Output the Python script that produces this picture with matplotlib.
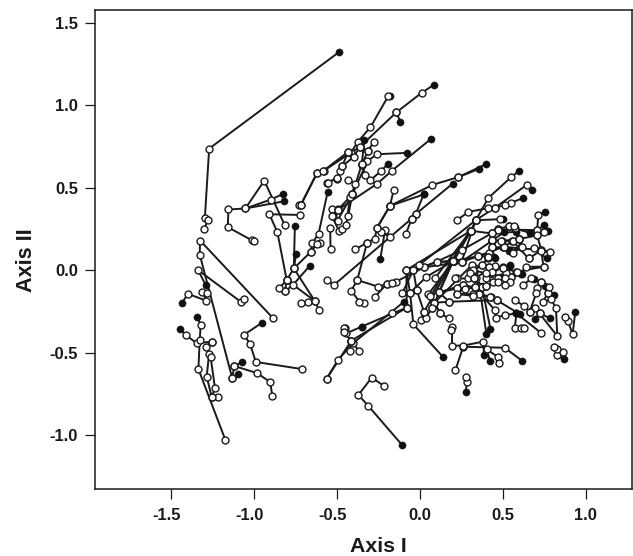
import matplotlib
matplotlib.use("Agg")
import matplotlib.pyplot as plt
from matplotlib.transforms import ScaledTranslation

plt.rcParams['font.family'] = ['Liberation Sans', 'DejaVu Sans']
plt.rcParams['font.weight'] = 'bold'

x_ticks = [-1.5, -1.0, -0.5, 0.0, 0.5, 1.0]
y_ticks = [-1.0, -0.5, 0.0, 0.5, 1.0, 1.5]
x_name = "Axis I"
y_name = "Axis II"

# tracks that start at a filled (black) point
filled_tracks = [
    [(-.487, 1.32), (-1.268, .736), (-1.294, .318), (-1.278, .302), (-1.298, .246)],
    [(-.826, .460), (-.897, .427), (-1.050, .373), (-1.152, .367), (-1.156, .260), (-1.012, .181), (-1.000, .179)],
    [(-.816, .417), (-1.050, .373), (-.936, .542), (-.812, .270)],
    [(-.752, .266), (-.758, .010), (-.801, -.061), (-.812, -.130)],
    [(-.744, .098), (-.758, .010)],
    [(-.662, .026), (-.764, -.091), (-.812, -.130)],
    [(-.555, .470), (-.609, .221), (-.648, .161), (-.654, .112), (-.758, .010), (-.633, -.186), (-.672, -.194), (-.712, -.198)],
    [(-1.441, -.360), (-1.409, -.394), (-1.342, -.444), (-1.253, -.434)],
    [(-1.341, -.283), (-1.319, -.331), (-1.325, -.424), (-1.333, -.600), (-1.170, -1.031)],
    [(-1.289, -.091), (-1.335, .0), (-1.078, -.192), (-1.060, -.176)],
    [(-1.43, -.198), (-1.397, -.144), (-1.285, -.186), (-1.309, -.132), (-1.279, -.140)],
    [(-.949, -.319), (-1.058, -.392), (-1.021, -.450), (-.987, -.557), (-.710, -.600)],
    [(-1.070, -.559), (-1.116, -.582), (-.981, -.624), (-.901, -.678), (-.887, -.765)],
    [(-1.094, -.630), (-1.130, -.652)],
    [(-.350, -.343), (-.164, -.263), (-.078, -.228)],
    [(-.094, -.192), (-.402, -.444), (-.491, -.543), (-.560, -.658)],
    [(-.350, -.343), (-.442, -.384), (-.448, -.350)],
    [(.402, .643), (.232, .563), (.077, .516), (-.179, .389), (-.156, .488)],
    [(.358, .613), (.232, .563)],
    [(.024, .458), (-.179, .389), (-.257, .256), (-.271, .191), (-.317, .165), (-.390, .125)],
    [(.024, .458), (-.024, .339)],
    [(.199, .524), (-.024, .339), (-.048, .312), (-.517, -.091), (-.557, -.061)],
    [(-.237, .068), (-.209, .242), (-.179, .199), (-.233, .232), (-.257, .256), (-.179, .389)],
    [(.597, .599), (.551, .563), (.414, .437), (.338, .302), (.308, .238), (.205, .056), (.105, .050)],
    [(.620, .435), (.553, .409), (.513, .393), (.455, .379), (.414, .375), (.294, .353), (.225, .302)],
    [(.676, .484), (.648, .518), (.455, .379), (.338, .302), (.252, .050)],
    [(.499, .308), (.483, .308), (.338, .302)],
    [(.754, .353), (.714, .333), (.708, .242), (.708, .211), (.732, .121), (.746, .020)],
    [(.748, .270), (.708, .242), (.469, .246)],
    [(.776, .236), (.748, .228), (.708, .211), (.597, .187), (.418, .105)],
    [(.662, .226), (.573, .252), (.539, .268), (.469, .246), (.433, .222), (.308, .238), (.091, -.051)],
    [(.583, .232), (.433, .222), (.252, .120), (.026, .016)],
    [(.509, .230), (.435, .177), (.252, .050), (.026, .016), (-.144, -.071), (-.199, -.085), (-.269, -.162)],
    [(.543, .117), (.611, .137), (.597, .187), (.493, .177), (.435, .177)],
    [(.418, .105), (.252, .050), (.105, .050), (-.038, .0), (-.104, -.138)],
    [(.449, .080), (.352, .084), (.201, .054), (.041, -.041), (-.058, -.138), (-.018, -.121)],
    [(.766, .070), (.686, .131), (.786, .107), (.732, .121), (.503, .141), (.352, .084)],
    [(.543, .030), (.499, .016), (.420, .016), (.314, .030), (.089, -.198)],
    [(.613, -.025), (.638, .020), (.746, .020), (.583, -.010), (.549, -.041)],
    [(.139, -.525), (-.038, -.329), (-.058, -.138), (-.080, .0), (-.078, -.228)],
    [(.402, -.388), (.360, -.1), (.325, -.01)],
    [(.426, -.356), (.375, -.1), (.340, -.05)],
    [(.615, -.549), (.513, -.471), (.262, -.465), (.215, -.608)],
    [(.388, -.515), (.382, -.434), (.262, -.458), (.195, -.458), (.195, -.347), (.187, -.364)],
    [(.424, -.553), (.404, -.481), (.469, -.525), (.477, -.561)],
    [(.278, -.737), (.284, -.680), (.282, -.646)],
    [(-.107, -1.059), (-.309, -.824), (-.369, -.757), (-.289, -.652), (-.217, -.701)],
    [(.937, -.255), (.921, -.390), (.893, -.307), (.877, -.283)],
    [(.867, -.539), (.826, -.515), (.861, -.495), (.826, -.479), (.812, -.468)],
    [(.784, -.291), (.722, -.263), (.692, -.232), (.662, -.253), (.626, -.216), (.573, -.182)],
    [(.692, -.297), (.722, -.263), (.829, -.400), (.821, -.230), (.792, -.178), (.742, -.192), (.772, -.142)],
    [(.808, -.150), (.772, -.142), (.732, -.071), (.706, -.111), (.702, -.142), (.662, -.253)],
    [(.688, -.057), (.672, -.051), (.623, -.093)],
    [(.756, -.097), (.732, -.071), (.782, -.101)],
    [(.583, -.263), (.513, -.273), (.459, -.289), (.453, -.243), (.334, -.105)],
    [(.603, -.267), (.463, -.182)],
    [(.583, -.263), (.573, -.350), (.613, -.350), (.626, -.350)],
    [(.583, -.263), (.730, -.380)],
    [(.085, 1.122), (.013, 1.075), (-.140, .956), (-.361, .746), (-.414, .712), (-.578, .601), (-.618, .589), (-.716, .395)],
    [(-.178, 1.055), (-.190, 1.053), (-.297, .865), (-.373, .777), (-.414, .712)],
    [(-.118, .900), (-.140, .956)],
    [(.071, .797), (-.166, .603), (-.255, .524), (-.495, .363), (-.525, .329)],
    [(-.078, .710), (-.257, .702), (-.315, .660), (-.406, .458), (-.495, .30)],
    [(-.191, .645), (-.233, .599), (-.297, .545), (-.327, .575), (-.349, .639), (-.347, .641), (-.313, .720)],
    [(-.333, .791), (-.349, .64), (-.406, .458), (-.43, .33)],
    [(.423, .105), (.353, .085)],
    [(.454, .075), (.409, .081)],
    [(.540, .118), (.508, .138)],
    [(.373, -.097), (.399, -.097)],
    [(.544, .027), (.504, .010)],
    [(.614, -.024), (.548, -.040)],
]

# tracks with open points only
open_tracks = [
    [(-.719, .334), (-.905, .338), (-.857, .228), (-.801, -.061), (-.845, -.109)],
    [(-.601, .161), (-.620, .157), (-.654, .112)],
    [(-.605, -.245), (-.633, -.186), (-.801, -.061)],
    [(-.726, .393), (-.716, .393), (-.617, .591), (-.581, .601), (-.431, .716)],
    [(-.557, .530), (-.501, .554), (-.477, .601), (-.467, .629), (-.431, .716)],
    [(-.539, .256), (-.537, .125)],
    [(-.529, .367), (-.495, .367), (-.531, .330), (-.485, .236), (-.469, .246), (-.441, .276), (-.421, .44)],
    [(-.886, -.289), (-1.323, .179), (-1.325, .094), (-1.130, -.652), (-1.116, -.582)],
    [(-1.253, -.434), (-1.289, -.464), (-1.269, -.511), (-1.283, -.646), (-1.253, -.769), (-1.212, -.767)],
    [(-1.259, -.529), (-1.233, -.717), (-1.253, -.769)],
    [(-.078, -.228), (-.412, -.428), (-.560, -.658)],
    [(-.422, -.493), (-.412, -.428), (-.367, -.489)],
    [(-.456, -.351), (-.454, -.377), (-.411, -.432)],
    [(-.048, .312), (-.084, .216)],
    [(.308, .238), (-.080, .0)],
    [(.338, .302), (-.004, .030)],
    [(.656, .070), (.559, .177)],
    [(.414, .076), (.374, .030), (.324, -.004), (.328, -.051), (.294, -.051), (.225, -.051), (.213, -.051)],
    [(.453, .020), (.328, -.051)],
    [(.46, -.05), (.52, -.02), (.40, -.05), (.44, -.07)],
    [(-.038, .0), (-.018, -.121), (.026, -.253), (.006, -.303), (.037, -.289), (.075, -.232), (.089, -.198), (.051, -.148), (.205, .056)],
    [(.115, -.136), (.201, .054)],
    [(.260, -.091), (.115, -.136), (.179, -.192)],
    [(.125, -.263), (.175, -.293)],
    [(.125, -.263), (.089, -.198), (.179, -.192), (.463, -.182), (.428, -.162), (.360, -.146), (.324, -.146), (.225, -.146), (.229, -.111), (.115, -.136)],
    [(.260, -.091), (.334, -.105)],
    [(-.337, -.202), (-.363, -.192), (-.412, -.125), (-.376, -.061), (-.317, .165)],
    [(-.376, -.061), (-.249, -.101), (-.199, -.085), (-.164, -.077)],
    [(-.275, .779), (-.313, .720), (-.361, .746), (-.398, .686), (-.466, .629), (-.497, .559), (-.553, .530)],
    [(-.431, .548), (-.392, .524), (-.406, .458), (-.495, .363)],
    [(.434, .138), (.508, .138), (.564, .105), (.616, .138)],
    [(.438, .182), (.490, .176), (.564, .176), (.598, .188)],
    [(.470, .243), (.434, .223), (.438, .182), (.434, .138), (.409, .081)],
    [(.540, .269), (.568, .267), (.598, .188)],
    [(.454, .027), (.419, .021), (.373, .031)],
    [(.504, .010), (.584, -.010)],
    [(.514, -.050), (.470, -.050), (.434, -.010), (.397, -.020), (.323, .0)],
    [(.544, -.070), (.514, -.090), (.470, -.070), (.399, -.097), (.333, -.105), (.273, -.115), (.227, -.111)],
    [(.227, -.145), (.323, -.157), (.424, -.161)],
    [(.303, -.016), (.329, -.050)],
    [(.658, .071), (.731, .118)],
    [(.302, .238), (.065, -.16)],
    [(.308, .238), (.026, -.253)],
    [(.201, .054), (.075, -.232)],
]

fig = plt.figure(figsize=(6.33, 5.56), dpi=100)
ax = fig.add_axes([95.3 / 633, 67.5 / 556, 536.7 / 633, 478.5 / 556])

for track in filled_tracks + open_tracks:
    ax.plot([p[0] for p in track], [p[1] for p in track], color="#1a1a1a", lw=1.4, zorder=2)

# black points first, the open ones sit on top of them
ax.plot([t[0][0] for t in filled_tracks], [t[0][1] for t in filled_tracks], ls="none",
        marker="o", ms=5.2, mfc="#111111", mec="#111111", mew=0.3, zorder=3)
open_pts = [p for t in filled_tracks for p in t[1:]] + [p for t in open_tracks for p in t]
ax.plot([p[0] for p in open_pts], [p[1] for p in open_pts], ls="none",
        marker="o", ms=5.0, mfc="white", mec="#1a1a1a", mew=1.0, zorder=4)

ax.set_xlim(-1.954, 1.279)
ax.set_ylim(-1.324, 1.576)
ax.set_xticks(x_ticks)
ax.set_yticks(y_ticks)
ax.set_xticklabels(["%.1f" % v for v in x_ticks])
ax.set_yticklabels(["%.1f" % v for v in y_ticks])
ax.tick_params(length=7, width=0.9, labelsize=11.9, color="#1a1a1a", labelcolor="#1a1a1a")
ax.tick_params(axis="y", pad=5.5)
ax.tick_params(axis="x", pad=7)
# the minus labels sit a little left of their ticks
for lab, v in zip(ax.get_xticklabels(), x_ticks):
    if v < 0:
        lab.set_transform(lab.get_transform() + ScaledTranslation(-4 / 100, 0, fig.dpi_scale_trans))
for s in ax.spines.values():
    s.set_linewidth(1.1)
    s.set_color("#1a1a1a")
ax.set_xlabel(x_name, fontsize=15.3, fontweight="bold", color="#1a1a1a", labelpad=10)
ax.set_ylabel(y_name, fontsize=15.6, fontweight="bold", color="#1a1a1a", labelpad=9)
ax.xaxis.label.set_x(.528)
ax.yaxis.label.set_y(.4775)

fig.savefig("out.png", dpi=100)
